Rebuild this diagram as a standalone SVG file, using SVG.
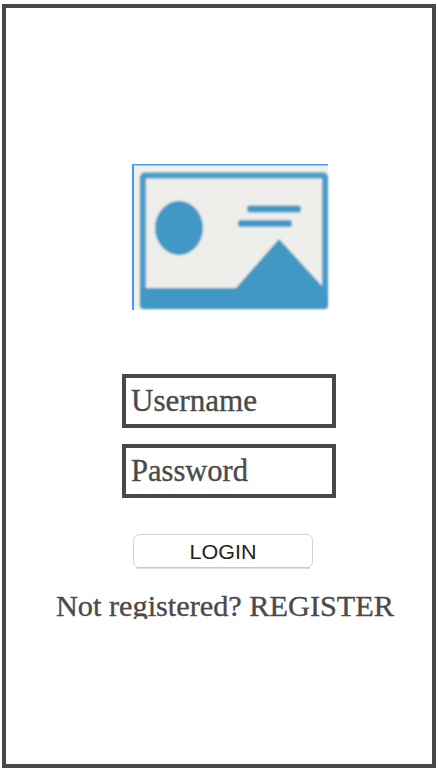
<svg xmlns="http://www.w3.org/2000/svg" width="438" height="772" viewBox="0 0 438 772">
<defs>
<style>
.box{fill:#fff;stroke:#494949;stroke-width:4}
.serif{font-family:"Liberation Serif","DejaVu Serif",serif;fill:#4a4a4a;font-size:31px;stroke:#4a4a4a;stroke-width:0.35px}
.ic{fill:#4398c5}
</style>
<clipPath id="regclip"><rect x="40" y="585" width="370" height="34"/></clipPath>
<filter id="soft" x="-5%" y="-5%" width="110%" height="110%"><feGaussianBlur stdDeviation="0.8"/></filter>
</defs>
<rect width="438" height="772" fill="#fff"/>
<g id="frame"><rect class="box" x="4" y="6" width="430" height="760"/></g>
<g id="image">
<rect x="133" y="165" width="195" height="145" fill="#f0f0ec"/>
<g filter="url(#soft)">
<rect x="143" y="175.500" width="182" height="130" rx="2" fill="#eeeeea" stroke="#4b9cc7" stroke-width="6"/>
<path class="ic" d="M140 288H236L279 239L322 286L328 292V305Q328 309 324 309H144Q140 309 140 305Z"/>
<ellipse class="ic" cx="179" cy="228" rx="24" ry="27"/>
<rect class="ic" x="247" y="205.500" width="54" height="7" rx="3"/>
<rect class="ic" x="238" y="220" width="54" height="7" rx="3"/>
</g>
<rect x="132" y="164" width="196" height="1.500" fill="#4a96f5"/>
<rect x="132" y="164" width="2" height="146" fill="#4a96f5"/>
</g>
<g id="username"><rect class="box" x="124" y="376" width="210" height="50"/><text class="serif" x="131" y="411" textLength="126" lengthAdjust="spacingAndGlyphs">Username</text></g>
<g id="password"><rect class="box" x="124" y="446" width="210" height="50"/><text class="serif" x="131" y="481" textLength="117" lengthAdjust="spacingAndGlyphs">Password</text></g>
<g id="login"><rect x="133.500" y="534.500" width="179" height="33" rx="6" fill="#fff" stroke="#d2d2d2" stroke-width="1"/><path d="M136 568H310" stroke="#bcbcbc" stroke-width="1.200"/><text x="223" y="559" text-anchor="middle" textLength="67" lengthAdjust="spacingAndGlyphs" font-family="'Liberation Sans',Arial,sans-serif" font-size="21px" fill="#222">LOGIN</text></g>
<g id="register" clip-path="url(#regclip)"><text class="serif" x="56" y="616" textLength="338" lengthAdjust="spacingAndGlyphs" style="font-size:30px">Not registered? REGISTER</text></g>
<g id="connectors"/>
</svg>
